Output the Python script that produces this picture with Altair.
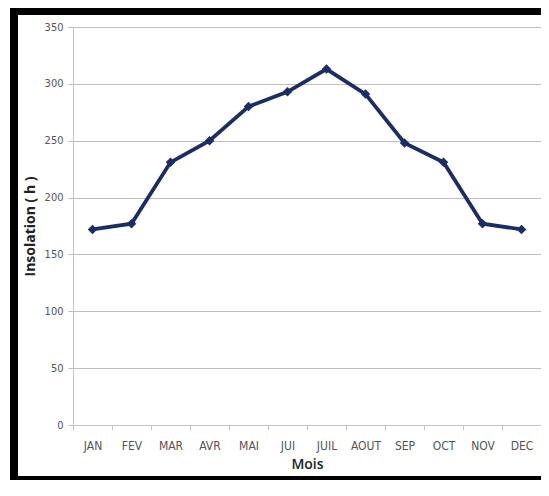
import altair as alt
import pandas as pd

months = ["JAN", "FEV", "MAR", "AVR", "MAI", "JUI", "JUIL", "AOUT", "SEP", "OCT", "NOV", "DEC"]
insolation = [172, 177, 231, 250, 280, 293, 313, 291, 248, 231, 177, 172]
y_ticks = [0, 50, 100, 150, 200, 250, 300, 350]

df = pd.DataFrame({"Mois": months, "Insolation": insolation})

LABEL_FONT = "Liberation Sans Narrow, DejaVu Sans Condensed, Arial Narrow, sans-serif"
TITLE_FONT = "Open Sans"
NAVY = "#1b2d66"

PLOT_W = 468   # the svg must fit inside the window without scrollbars
PLOT_H = 398
PAD_T = 19
PAD_B = 55

x_enc = alt.X(
    "Mois:N",
    sort=months,
    scale=alt.Scale(type="band", paddingInner=0, paddingOuter=0),
    axis=alt.Axis(
        title="Mois",
        labelAngle=0,
        tickBand="extent",
        grid=False,
        domainColor="#c4c4c4",
        tickColor="#c4c4c4",
        tickSize=5,
        labelFont=LABEL_FONT,
        labelFontSize=12,
        labelColor="#555555",
        labelPadding=10,
        titleFont=TITLE_FONT,
        titleFontSize=14,
        titleFontWeight=600,
        titleColor="#222222",
        titlePadding=6,
    ),
)

y_enc = alt.Y(
    "Insolation:Q",
    scale=alt.Scale(domain=[0, 350], nice=False),
    axis=alt.Axis(
        title="Insolation ( h )",
        values=y_ticks,
        grid=True,
        gridColor="#bdbdbd",
        gridWidth=1,
        domainColor="#c4c4c4",
        tickColor="#bdbdbd",
        tickSize=5,
        labelFont=LABEL_FONT,
        labelFontSize=11,
        labelColor="#555555",
        labelPadding=5,
        titleFont=TITLE_FONT,
        titleFontSize=14,
        titleFontWeight="bold",
        titleColor="#222222",
        titlePadding=7,
    ),
)

line = alt.Chart(df).mark_line(color=NAVY, strokeWidth=3.8).encode(x=x_enc, y=y_enc)
points = alt.Chart(df).mark_point(
    shape="diamond", filled=True, color=NAVY, size=90, opacity=1
).encode(x=alt.X("Mois:N", sort=months), y="Insolation:Q")

one = alt.Data(values=[{"a": 1}])
left_border = alt.Chart(one).mark_rule(color="black", strokeWidth=8, clip=False).encode(
    x=alt.value(-59), y=alt.value(-19), y2=alt.value(PLOT_H + PAD_B)
)
top_border = alt.Chart(one).mark_rule(color="black", strokeWidth=7, clip=False).encode(
    y=alt.value(-15.5), x=alt.value(-63), x2=alt.value(PLOT_W)
)
bottom_border = alt.Chart(one).mark_rule(color="black", strokeWidth=4, clip=False).encode(
    y=alt.value(PLOT_H + PAD_B - 2), x=alt.value(-63), x2=alt.value(PLOT_W)
)

chart = alt.layer(line, points, left_border, top_border, bottom_border).properties(
    width=PLOT_W,
    height=PLOT_H,
    autosize="none",
    padding={"left": 65, "top": PAD_T, "right": 0, "bottom": PAD_B},
    background="white",
).configure_view(stroke=None)

chart.save("out.html", embed_options={"renderer": "svg", "actions": False})
